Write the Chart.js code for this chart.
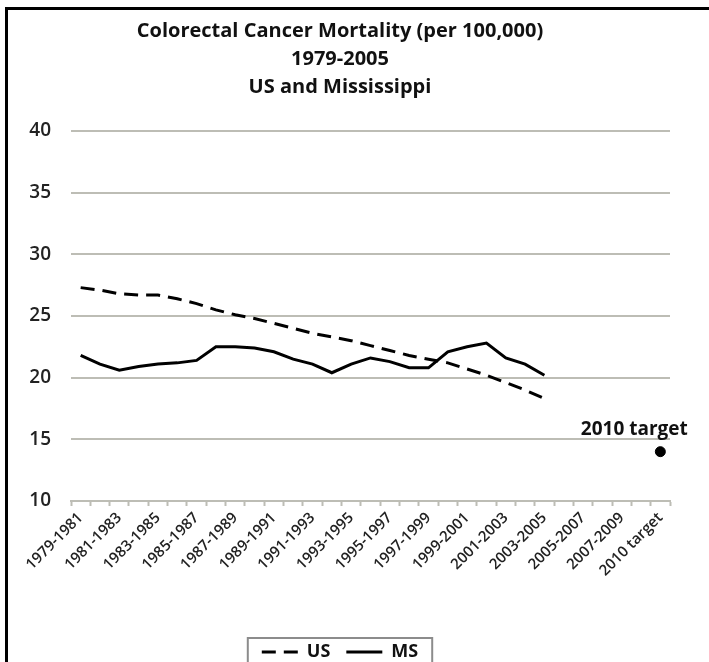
<!DOCTYPE html>
<html>
<head>
<meta charset="utf-8">
<script src="https://cdn.jsdelivr.net/npm/chart.js@4.4.1/dist/chart.umd.min.js"></script>
<style>
  html, body { margin: 0; padding: 0; background: #fff; overflow: hidden; }
  #wrap { position: relative; width: 709px; height: 662px; overflow: hidden; }
  #frame { position: absolute; left: 5px; top: 7px; width: 720px; height: 700px;
           border-top: 3px solid #000; border-left: 3px solid #000; pointer-events: none; }
  canvas { position: absolute; left: 0; top: 0; }
</style>
</head>
<body>
<div id="wrap">
  <canvas id="CRC" width="709" height="671"></canvas>
  <div id="frame"></div>
</div>
<script>
// categories (3 year periods) + target slot
var periods = [
  '1979-1981', '1980-1982', '1981-1983', '1982-1984', '1983-1985', '1984-1986',
  '1985-1987', '1986-1988', '1987-1989', '1988-1990', '1989-1991', '1990-1992',
  '1991-1993', '1992-1994', '1993-1995', '1994-1996', '1995-1997', '1996-1998',
  '1997-1999', '1998-2000', '1999-2001', '2000-2002', '2001-2003', '2002-2004',
  '2003-2005', '2004-2006', '2005-2007', '2006-2008', '2007-2009', '2008-2010',
  '2010 target'
];

// rates per 100,000
var usRates = [27.3, 27.1, 26.8, 26.7, 26.7, 26.4, 26.0, 25.5, 25.1, 24.8,
               24.4, 24.0, 23.6, 23.3, 23.0, 22.6, 22.2, 21.8, 21.5, 21.2,
               20.7, 20.2, 19.6, 19.0, 18.3];
var msRates = [21.8, 21.1, 20.6, 20.9, 21.1, 21.2, 21.4, 22.5, 22.5, 22.4,
               22.1, 21.5, 21.1, 20.4, 21.1, 21.6, 21.3, 20.8, 20.8, 22.1,
               22.5, 22.8, 21.6, 21.1, 20.2];
var targetIndex = 30;
var targetValue = 14;
var targetLabel = '2010 target';

var yTicks = [10, 15, 20, 25, 30, 35, 40];

var targetData = periods.map(function (p, i) { return i === targetIndex ? targetValue : null; });

var gridGray = '#bdbdb5';
var fontFam = '"Open Sans", "Noto Sans", sans-serif';
var legendPad = 16;

// box round the legend + label above the target dot
var extras = {
  id: 'extras',
  afterDraw: function (chart) {
    var ctx = chart.ctx;
    var lg = chart.legend;
    if (lg && lg.legendHitBoxes && lg.legendHitBoxes.length) {
      var l = Infinity, r = -Infinity;
      lg.legendHitBoxes.forEach(function (b) {
        l = Math.min(l, b.left);
        r = Math.max(r, b.left + b.width);
      });
      ctx.save();
      ctx.strokeStyle = '#8c8c8c';
      ctx.lineWidth = 2;
      ctx.strokeRect(l - 14, lg.top + legendPad / 2 + 3, (r - l) + 28, 60);
      ctx.restore();
    }
    var xs = chart.scales.x, ys = chart.scales.y;
    var px = xs.getPixelForValue(targetIndex);
    var py = ys.getPixelForValue(targetValue);
    ctx.save();
    ctx.font = 'bold 19px ' + fontFam;
    ctx.fillStyle = '#111';
    ctx.textAlign = 'center';
    ctx.textBaseline = 'middle';
    ctx.fillText(targetLabel, px - 26, py - 22);
    ctx.restore();
  }
};

var crcChart = new Chart(document.getElementById('CRC').getContext('2d'), {
  type: 'line',
  data: {
    labels: periods,
    datasets: [{
      label: 'US',
      data: usRates,
      borderColor: '#000',
      backgroundColor: '#000',
      borderWidth: 3,
      borderDash: [14, 8],
      pointRadius: 0,
      tension: 0
    }, {
      label: 'MS',
      data: msRates,
      borderColor: '#000',
      backgroundColor: '#000',
      borderWidth: 3,
      pointRadius: 0,
      tension: 0
    }, {
      label: 'target',
      data: targetData,
      showLine: false,
      pointRadius: 5,
      pointBackgroundColor: '#000',
      pointBorderColor: '#000'
    }]
  },
  options: {
    responsive: false,
    animation: false,
    layout: { padding: { left: 10, right: 39, top: 17, bottom: 0 } },
    plugins: {
      title: {
        display: true,
        text: ['Colorectal Cancer Mortality (per 100,000)', '1979-2005', 'US and Mississippi'],
        color: '#111',
        font: { family: fontFam, size: 20, weight: 'bold', lineHeight: 1.4 },
        padding: { top: 0, bottom: 30 }
      },
      legend: {
        position: 'bottom',
        labels: {
          usePointStyle: true,
          pointStyle: 'line',
          pointStyleWidth: 36,
          generateLabels: function (chart) {
            var items = Chart.defaults.plugins.legend.labels.generateLabels(chart);
            items.forEach(function (it) {
              var ds = chart.data.datasets[it.datasetIndex];
              it.lineDash = ds.borderDash || [];
              it.lineWidth = 3;
              it.strokeStyle = '#000';
              it.pointStyle = 'line';
            });
            return items.filter(function (it) { return it.text !== 'target'; });
          },
          color: '#111',
          padding: legendPad,
          font: { family: fontFam, size: 18, weight: 'bold' }
        }
      },
      tooltip: { enabled: false }
    },
    scales: {
      x: {
        offset: true,
        grid: {
          offset: true,
          drawOnChartArea: false,
          drawTicks: true,
          tickLength: 5,
          tickWidth: 2,
          tickColor: gridGray
        },
        border: { display: true, color: gridGray, width: 2 },
        ticks: {
          autoSkip: false,
          minRotation: 45,
          maxRotation: 45,
          color: '#222',
          font: { family: fontFam, size: 15, weight: '600' },
          callback: function (v, i) { return i % 2 === 0 ? periods[i] : ''; }
        },
        afterFit: function (s) { s.height = 126; }
      },
      y: {
        min: 10,
        max: 40,
        afterBuildTicks: function (s) { s.ticks = yTicks.map(function (v) { return { value: v }; }); },
        grid: { color: gridGray, lineWidth: 2, drawTicks: false },
        border: { display: false },
        ticks: {
          color: '#222',
          padding: 20,
          font: { family: fontFam, size: 19, weight: '600' }
        },
        afterFit: function (s) { s.width = 61; }
      }
    }
  },
  plugins: [extras]
});
</script>
</body>
</html>
